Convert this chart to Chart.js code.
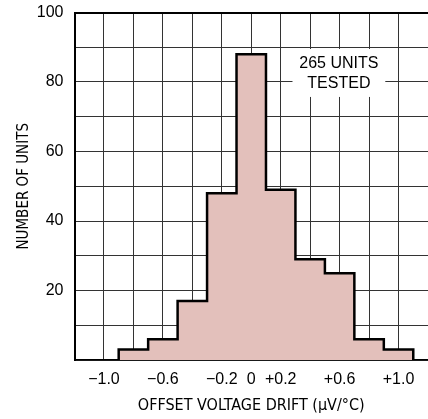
<!DOCTYPE html>
<html>
<head>
<meta charset="utf-8">
<script src="https://cdn.jsdelivr.net/npm/chart.js@4/dist/chart.umd.min.js"></script>
<style>
html,body{margin:0;padding:0;background:#fff;}
#wrap{width:428px;height:419px;position:relative;}
</style>
</head>
<body>
<div id="wrap"><canvas id="c" width="428" height="419"></canvas></div>
<script>
// ---- data ----
const binCenters = [-0.8, -0.6, -0.4, -0.2, 0, 0.2, 0.4, 0.6, 0.8, 1.0];
const counts     = [3, 6, 17, 48, 88, 49, 29, 25, 6, 3];
const binWidth = 0.2;
const xLabelValues = [-1.0, -0.6, -0.2, 0, 0.2, 0.6, 1.0];
const xLabelTexts  = ['\u22121.0', '\u22120.6', '\u22120.2', '0', '+0.2', '+0.6', '+1.0'];
const yLabelValues = [20, 40, 60, 80, 100];
const noteLines = ['265 UNITS', 'TESTED'];
const xTitle = 'OFFSET VOLTAGE DRIFT (\u03BCV/\u00B0C)';
const yTitle = 'NUMBER OF UNITS';

// build stepped outline points from bins (right edge of each bin)
const pts = [];
pts.push({x: binCenters[0] - binWidth/2, y: 0});
binCenters.forEach((c, i) => pts.push({x: c + binWidth/2, y: counts[i]}));
const lastC = binCenters[binCenters.length-1];
pts.push({x: lastC + binWidth/2, y: 0});

const near = (a, b) => Math.abs(a - b) < 1e-6;
const tickFont = {family: "'Liberation Sans', Arial, sans-serif", size: 16};
const xTitleFont = {family: "'DejaVu Sans Condensed', 'Liberation Sans', sans-serif", size: 16};
const yTitleFont = {family: "'DejaVu Sans Condensed', 'Liberation Sans', sans-serif", size: 15};

const notePlugin = {
  id: 'note',
  afterDraw(chart) {
    const {ctx, scales: {x, y}} = chart;
    const x0 = x.getPixelForValue(0.28), x1 = x.getPixelForValue(0.91);
    const y0 = y.getPixelForValue(89.5), y1 = y.getPixelForValue(75.7);
    ctx.save();
    ctx.fillStyle = '#fff';
    ctx.fillRect(x0, y0, x1 - x0, y1 - y0);
    ctx.fillStyle = '#000';
    ctx.font = "16px 'Liberation Sans', Arial, sans-serif";
    ctx.textAlign = 'center';
    ctx.textBaseline = 'middle';
    const cx = x.getPixelForValue(0.595);
    ctx.fillText(noteLines[0], cx, y.getPixelForValue(85.4));
    ctx.fillText(noteLines[1], cx, y.getPixelForValue(79.6));
    ctx.restore();
  }
};

Chart.defaults.color = '#000';
new Chart(document.getElementById('c'), {
  type: 'line',
  data: {
    datasets: [{
      data: pts,
      stepped: 'after',
      borderColor: '#000',
      borderWidth: 2.5,
      borderJoinStyle: 'miter',
      backgroundColor: '#e3c0bb',
      fill: 'origin',
      pointRadius: 0,
      tension: 0
    }]
  },
  options: {
    responsive: false,
    animation: false,
    events: [],
    layout: {padding: {top: 12.5, right: 0, left: 0, bottom: 0}},
    plugins: {legend: {display: false}, tooltip: {enabled: false}},
    scales: {
      x: {
        type: 'linear',
        min: -1.2, max: 1.2,
        z: 1,
        afterFit(s) { s.height = 59; s.paddingLeft = 0; s.paddingRight = 0; },
        border: {display: true, color: '#000', width: 1.5},
        grid: {
          drawTicks: false,
          color: '#333',
          lineWidth: (c) => (near(c.tick.value, -1.2) || near(c.tick.value, 1.2)) ? 0 : 1
        },
        ticks: {
          stepSize: 0.2,
          autoSkip: false,
          maxRotation: 0,
          padding: 10,
          font: tickFont,
          callback: (v) => {
            const i = xLabelValues.findIndex(t => near(t, v));
            return i >= 0 ? xLabelTexts[i] : '';
          }
        },
        title: {display: true, text: xTitle, font: xTitleFont, padding: {top: 2, bottom: 4}}
      },
      y: {
        min: 0, max: 100,
        z: 1,
        afterFit(s) { s.width = 74.5; s.paddingTop = 0; s.paddingBottom = 0; },
        border: {display: true, color: '#000', width: 2},
        grid: {
          drawTicks: false,
          color: (c) => c.tick.value === 100 ? '#000' : '#333',
          lineWidth: (c) => c.tick.value === 100 ? 2 : 1
        },
        ticks: {
          stepSize: 10,
          autoSkip: false,
          padding: 11,
          font: tickFont,
          callback: (v) => yLabelValues.includes(v) ? String(v) : ''
        },
        title: {display: true, text: yTitle, font: yTitleFont, padding: {top: 15, bottom: 0}}
      }
    }
  },
  plugins: [notePlugin]
});
</script>
</body>
</html>
